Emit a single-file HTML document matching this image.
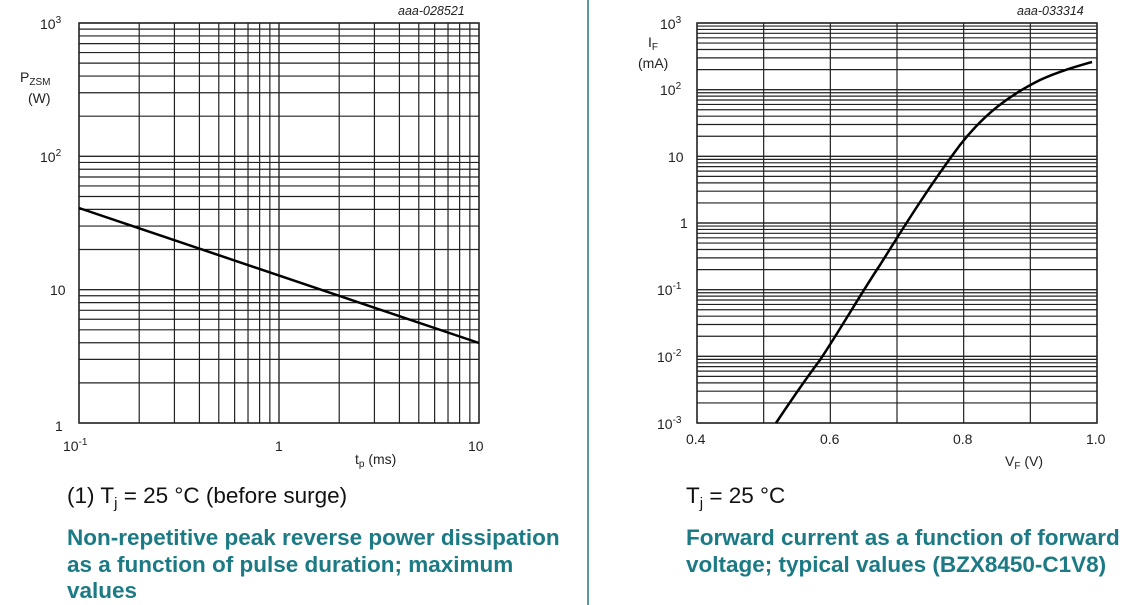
<!DOCTYPE html>
<html><head><meta charset="utf-8"><style>
html,body{margin:0;padding:0;background:#fff;width:1148px;height:605px;overflow:hidden;font-family:"Liberation Sans",Arial,sans-serif;}
svg{position:absolute;left:0;top:0}
</style></head><body>
<svg id="s" width="1148" height="605" xmlns="http://www.w3.org/2000/svg" font-family="Liberation Sans, Arial, sans-serif">
<g id="g1" stroke="#222" stroke-width="1.2" fill="none"></g>
<g id="g2" stroke="#222" stroke-width="1.2" fill="none"></g>
<rect x="79" y="23" width="400" height="400" fill="none" stroke="#222" stroke-width="1.5"/>
<rect x="697" y="23" width="400" height="400" fill="none" stroke="#222" stroke-width="1.5"/>
<line x1="79" y1="208" x2="479" y2="343" stroke="#000" stroke-width="2.5"/>
<path d="M776,423 C790,402 805,380 820,360 C840,330 860,295 880,265 C905,225 930,185 960,145 C985,113 1010,95 1040,80 C1060,71 1078,66 1092,62" stroke="#000" stroke-width="2.5" fill="none"/>
<line x1="588" y1="0" x2="588" y2="605" stroke="#5b9a9c" stroke-width="2"/>
<g font-size="14" fill="#222">
<text x="40" y="29">10<tspan font-size="10" dy="-6">3</tspan></text>
<text x="40" y="162">10<tspan font-size="10" dy="-6">2</tspan></text>
<text x="50" y="295">10</text>
<text x="55" y="431">1</text>
<text x="63" y="451">10<tspan font-size="10" dy="-6">-1</tspan></text>
<text x="275" y="451">1</text>
<text x="468" y="451">10</text>
<text x="355" y="464">t<tspan font-size="10" dy="3">p</tspan><tspan dy="-3"> (ms)</tspan></text>
<text x="20" y="82">P<tspan font-size="10" dy="3">ZSM</tspan></text>
<text x="28" y="103">(W)</text>
<text x="398" y="15" font-style="italic" font-size="12.5">aaa-028521</text>
<text x="660" y="29">10<tspan font-size="10" dy="-6">3</tspan></text>
<text x="648" y="47">I<tspan font-size="10" dy="3">F</tspan></text>
<text x="638" y="68">(mA)</text>
<text x="660" y="95">10<tspan font-size="10" dy="-6">2</tspan></text>
<text x="668" y="162">10</text>
<text x="680" y="228">1</text>
<text x="657" y="295">10<tspan font-size="10" dy="-6">-1</tspan></text>
<text x="657" y="362">10<tspan font-size="10" dy="-6">-2</tspan></text>
<text x="657" y="429">10<tspan font-size="10" dy="-6">-3</tspan></text>
<text x="686" y="444">0.4</text>
<text x="820" y="444">0.6</text>
<text x="953" y="444">0.8</text>
<text x="1086" y="444">1.0</text>
<text x="1005" y="466">V<tspan font-size="10" dy="3">F</tspan><tspan dy="-3"> (V)</tspan></text>
<text x="1017" y="15" font-style="italic" font-size="12.5">aaa-033314</text>
</g>
<g font-size="22.5" fill="#111">
<text x="67" y="503">(1) T<tspan font-size="15" dy="5">j</tspan><tspan dy="-5"> = 25 °C (before surge)</tspan></text>
<text x="686" y="503">T<tspan font-size="15" dy="5">j</tspan><tspan dy="-5"> = 25 °C</tspan></text>
</g>
<g font-size="22.5" font-weight="bold" fill="#1b7a84">
<text x="67" y="545">Non-repetitive peak reverse power dissipation</text>
<text x="67" y="572">as a function of pulse duration; maximum</text>
<text x="67" y="598">values</text>
<text x="686" y="545">Forward current as a function of forward</text>
<text x="686" y="572">voltage; typical values (BZX8450-C1V8)</text>
</g>
</svg>
<script>
var NS="http://www.w3.org/2000/svg";
function L(g,x1,y1,x2,y2){var l=document.createElementNS(NS,"line");l.setAttribute("x1",x1);l.setAttribute("y1",y1);l.setAttribute("x2",x2);l.setAttribute("y2",y2);g.appendChild(l);}
var g1=document.getElementById("g1"),g2=document.getElementById("g2");
for(var d=0;d<2;d++)for(var k=1;k<=10;k++){var x=79+200*(d+Math.log10(k));L(g1,x,23,x,423);}
for(var d=0;d<3;d++)for(var k=1;k<=10;k++){var y=423-133.333*(d+Math.log10(k));L(g1,79,y,479,y);}
for(var i=0;i<=6;i++){var x=697+66.667*i;L(g2,x,23,x,423);}
for(var d=0;d<6;d++)for(var k=1;k<=10;k++){var y=423-66.667*(d+Math.log10(k));L(g2,697,y,1097,y);}
</script>
</body></html>
